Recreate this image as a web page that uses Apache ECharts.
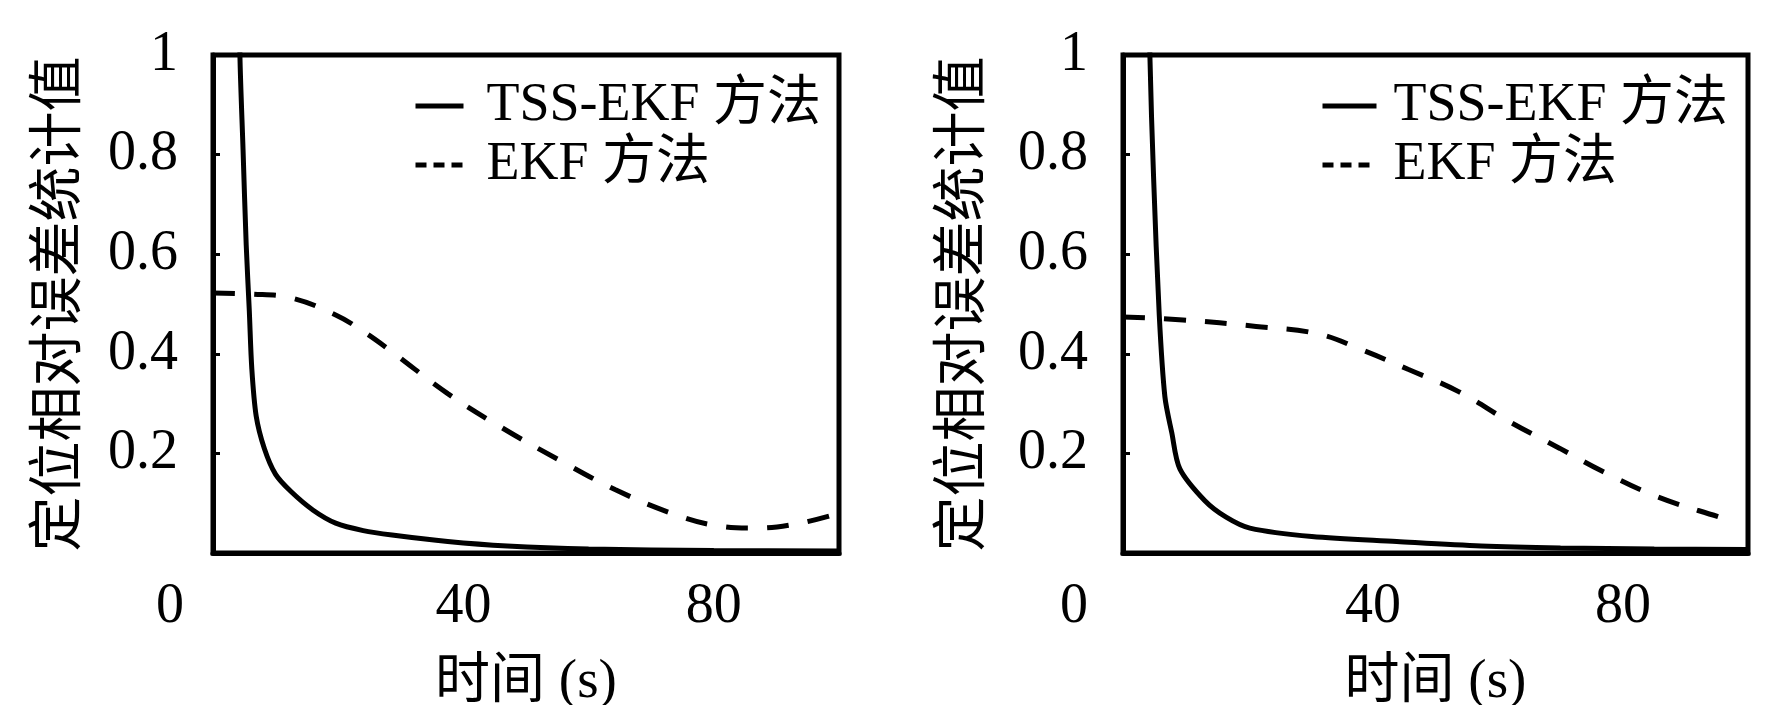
<!DOCTYPE html>
<html>
<head>
<meta charset="utf-8">
<script src="https://cdn.jsdelivr.net/npm/echarts@6/dist/echarts.min.js"></script>
<style>
html,body{margin:0;padding:0;background:#fff;}
#chart{width:1773px;height:705px;}
</style>
</head>
<body>
<div id="chart"></div>
<script>
// ---- data (x: time in s, y: relative positioning error) ----
const seriesNames = ['TSS-EKF 方法', 'EKF 方法'];
const xTicks = [0, 40, 80];
const yTickLabels = ['1', '0.8', '0.6', '0.4', '0.2'];
const yAxisTitle = '定位相对误差统计值';
const xAxisTitle = '时间 (s)';

const leftTss = [[4.1,1.25],[4.3,1.0],[4.8,0.81],[5.3,0.62],[5.8,0.486],[6.2,0.37],[6.9,0.275],[8.2,0.21],[10,0.158],[12.5,0.123],[16,0.086],[19.6,0.06],[24,0.045],[28.6,0.036],[37.5,0.023],[47,0.014],[60,0.008],[80,0.005],[100,0.004]];
const leftEkf = [[0,0.522],[6,0.52],[12.5,0.512],[19.6,0.478],[24,0.445],[28.6,0.404],[37.5,0.32],[46.5,0.249],[55.4,0.186],[64.3,0.127],[73.2,0.08],[80.4,0.055],[86.6,0.05],[93,0.058],[99.5,0.078]];
const rightTss = [[4.1,1.25],[4.3,1.0],[4.9,0.752],[5.8,0.478],[6.7,0.314],[7.8,0.242],[9.1,0.169],[13.1,0.105],[16.5,0.072],[20.3,0.05],[30.2,0.033],[43.8,0.023],[57.3,0.014],[70,0.01],[85,0.008],[100,0.007]];
const rightEkf = [[0,0.474],[9.6,0.468],[21.3,0.455],[31.2,0.44],[38.4,0.407],[45.6,0.369],[53.7,0.324],[61.8,0.264],[69.9,0.21],[76.7,0.164],[85.3,0.114],[95.2,0.073],[97.5,0.065]];

const FONT = "'Liberation Serif', 'Noto Sans CJK SC', serif";
const chart = echarts.init(document.getElementById('chart'), null, {renderer:'canvas'});

function yLabel(v){
  if (Math.abs(v) < 1e-9) return '';
  if (Math.abs(v - 1) < 1e-9) return yTickLabels[0];
  const idx = Math.round((1 - v) / 0.2);
  return yTickLabels[idx] || '';
}
function xLabel(v){
  if (v === 0) return '{o|0}';
  return xTicks.indexOf(v) >= 0 ? String(v) : '';
}
function makeX(gi, zeroPad){
  return {
    gridIndex: gi, type:'value', min:0, max:100, interval:40,
    name: xAxisTitle, nameLocation:'middle', nameGap: 102,
    nameTextStyle:{fontFamily:FONT, fontSize:55, color:'#000'},
    axisLine:{show:true, onZero:false, lineStyle:{color:'#000', width:5}},
    axisTick:{show:false},
    splitLine:{show:false},
    axisLabel:{formatter:xLabel, margin:26, fontFamily:FONT, fontSize:56, color:'#000',
      rich:{o:{fontFamily:FONT, fontSize:56, color:'#000', padding:[0, zeroPad, 0, 0]}}}
  };
}
function makeY(gi, gap){
  return {
    gridIndex: gi, type:'value', min:0, max:1, interval:0.2,
    name: yAxisTitle, nameLocation:'middle', nameGap: gap,
    nameTextStyle:{fontFamily:FONT, fontSize:55, color:'#000'},
    axisLine:{show:true, onZero:false, lineStyle:{color:'#000', width:5}},
    axisTick:{show:true, inside:true, length:7, lineStyle:{color:'#000', width:3}},
    splitLine:{show:false},
    axisLabel:{formatter:yLabel, margin:35, fontFamily:FONT, fontSize:56, color:'#000'}
  };
}
function solid(name, gi, data){
  return {name, type:'line', xAxisIndex:gi, yAxisIndex:gi, data, symbol:'none',
    smooth:0.3, clip:true,
    lineStyle:{color:'#000', width:5, type:'solid'}, itemStyle:{color:'#000'}};
}
function dashed(name, gi, data){
  return {name, type:'line', xAxisIndex:gi, yAxisIndex:gi, data, symbol:'none',
    smooth:0.4, clip:true,
    lineStyle:{color:'#000', width:5, type:[22,19]}, itemStyle:{color:'#000'}};
}
function legend(left, itemW, padL){
  return {
    orient:'vertical', left:left, top:74, itemWidth:itemW, itemHeight:14, itemGap:5,
    selectedMode:false,
    itemStyle:{color:'transparent', borderWidth:0, opacity:0},
    textStyle:{fontFamily:FONT, fontSize:54, color:'#000', lineHeight:46, padding:[0,0,0,padL]},
    data:[
      {name:seriesNames[0], lineStyle:{type:'solid', width:5, color:'#000'}},
      {name:seriesNames[1], lineStyle:{type:[11,7], width:5, color:'#000'}}
    ]
  };
}

const option = {
  backgroundColor:'#fff',
  animation:false,
  grid:[
    {left:213, right:934, top:55, bottom:152, show:true, borderColor:'#000', borderWidth:5, containLabel:false, outerBoundsMode:'none'},
    {left:1123, right:25, top:55, bottom:152, show:true, borderColor:'#000', borderWidth:5, containLabel:false, outerBoundsMode:'none'}
  ],
  xAxis:[makeX(0, 86), makeX(1, 98)],
  yAxis:[makeY(0, 125), makeY(1, 131)],
  legend:[legend(408, 48, 18), legend(1315, 54, 12)],
  series:[
    solid(seriesNames[0], 0, leftTss),
    dashed(seriesNames[1], 0, leftEkf),
    solid(seriesNames[0], 1, rightTss),
    dashed(seriesNames[1], 1, rightEkf)
  ]
};
chart.setOption(option);
</script>
</body>
</html>
